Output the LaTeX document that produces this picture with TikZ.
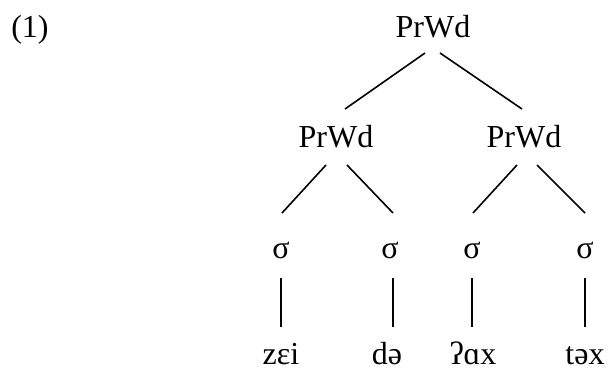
\documentclass[tikz,border=0pt]{standalone}
\usepackage{fontspec}
\setmainfont{Liberation Serif}
\begin{document}
\begin{tikzpicture}[x=0.75pt,y=-0.75pt,
  lab/.style={anchor=base,inner sep=0pt,font=\fontsize{24}{28}\selectfont},
  edge/.style={line width=1.2pt,black}]
\useasboundingbox (0,0) rectangle (611,369);
\node[lab] (ex) at (30,37) {(1)};
\node[lab] (t) at (433,37) {PrWd};
\node[lab] (l) at (336,147) {PrWd};
\node[lab] (r) at (524,147) {PrWd};
\node[lab] (s1) at (281,258) {σ};
\node[lab] (s2) at (390,258) {σ};
\node[lab] (s3) at (472,258) {σ};
\node[lab] (s4) at (585,258) {σ};
\node[lab] (w1) at (281,364) {zɛi};
\node[lab] (w2) at (387,364) {də};
\node[lab] (w3) at (473,364) {ʔɑx};
\node[lab] (w4) at (585,364) {təx};
% top level
\draw[edge] ([shift={(-8,16)}]t.base) -- ([shift={(9,-38)}]l.base);
\draw[edge] ([shift={(7,16)}]t.base) -- ([shift={(-2,-38)}]r.base);
% middle level
\draw[edge] ([shift={(-10,18)}]l.base) -- ([shift={(1,-45)}]s1.base);
\draw[edge] ([shift={(11,18)}]l.base) -- ([shift={(3,-45)}]s2.base);
\draw[edge] ([shift={(-7,18)}]r.base) -- ([shift={(1,-45)}]s3.base);
\draw[edge] ([shift={(13,18)}]r.base) -- ([shift={(0,-45)}]s4.base);
% vertical lines
\draw[edge] ([shift={(0,20)}]s1.base) -- ([shift={(0,-37)}]w1.base);
\draw[edge] ([shift={(3,20)}]s2.base) -- ([shift={(6,-37)}]w2.base);
\draw[edge] ([shift={(0,20)}]s3.base) -- ([shift={(-1,-37)}]w3.base);
\draw[edge] ([shift={(0,20)}]s4.base) -- ([shift={(0,-37)}]w4.base);
\end{tikzpicture}
\end{document}
